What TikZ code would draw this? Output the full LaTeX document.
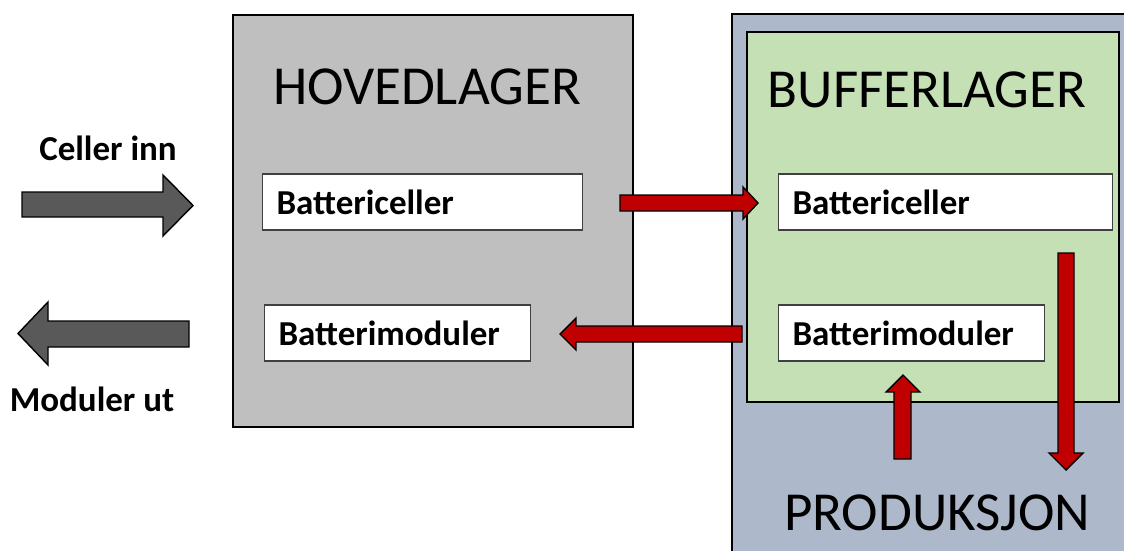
\documentclass[tikz,border=0pt]{standalone}
\usepackage{fontspec}
\setmainfont{Carlito}
\definecolor{hgray}{HTML}{BFBFBF}
\definecolor{pblue}{HTML}{ADB9CA}
\definecolor{bgreen}{HTML}{C5E0B4}
\definecolor{dgray}{HTML}{595959}
\definecolor{ared}{HTML}{C00000}
\tikzset{
  area/.style={draw=black, line width=1.6pt, rectangle, inner sep=0pt},
  item/.style={draw=black!75, line width=1.2pt, fill=white, rectangle, anchor=west,
    minimum height=56pt, inner xsep=14pt, inner ysep=0pt, align=left,
    font=\fontsize{35}{40}\selectfont\bfseries},
  title/.style={font=\fontsize{55}{62}\selectfont, inner sep=0pt},
  side/.style={font=\fontsize{35}{40}\selectfont\bfseries, inner sep=0pt},
  redarrow/.style={draw=black, line width=1.4pt, fill=ared, line join=miter},
  grayarrow/.style={draw=black, line width=1.4pt, fill=dgray, line join=miter}
}
\begin{document}
\begin{tikzpicture}[x=1pt,y=-1pt]
\useasboundingbox (0,0) rectangle (1124,550);
\fill[white] (0,0) rectangle (1124,550);
% main areas
\node[area, fill=hgray, minimum width=400pt, minimum height=412pt] (hoved) at (433,221) {};
\node[area, fill=pblue, minimum width=400pt, minimum height=550pt] (prod) at (932,289) {};
\node[area, fill=bgreen, minimum width=372pt, minimum height=370pt] (buffer) at (933,217) {};
% titles
\node[title] (thoved) at (427,87) {HOVEDLAGER};
\node[title] (tbuffer) at (927,90) {BUFFERLAGER};
\node[title] (tprod) at (937,513) {PRODUKSJON};
% items
\node[item, text width=292pt] (hcell) at (262,202) {Battericeller};
\node[item, text width=238pt] (hmod) at (264,333) {Batterimoduler};
\node[item, text width=306pt] (bcell) at (778,202) {Battericeller};
\node[item, text width=238pt] (bmod) at (778,333) {Batterimoduler};
% side labels
\node[side] (lin) at (108,148) {Celler inn};
\node[side] (lout) at (92,399) {Moduler ut};
% gray block arrows
\draw[grayarrow] (22,192) -- (163,192) -- (163,175) -- (193,205.5) -- (163,236) -- (163,217) -- (22,217) -- cycle;
\draw[grayarrow] (189,321) -- (48,321) -- (48,302) -- (18,333.5) -- (48,365) -- (48,347) -- (189,347) -- cycle;
% red block arrows
\draw[redarrow] (620,195) -- (743,195) -- (743,187) -- (758,203) -- (743,219) -- (743,211) -- (620,211) -- cycle;
\draw[redarrow] (742,326) -- (576,326) -- (576,318) -- (560,334) -- (576,350) -- (576,342) -- (742,342) -- cycle;
\draw[redarrow] (1058,253) -- (1074,253) -- (1074,453) -- (1083,453) -- (1066,470) -- (1049,453) -- (1058,453) -- cycle;
\draw[redarrow] (894,459) -- (911,459) -- (911,392) -- (920,392) -- (903,375) -- (886,392) -- (894,392) -- cycle;
\end{tikzpicture}
\end{document}
